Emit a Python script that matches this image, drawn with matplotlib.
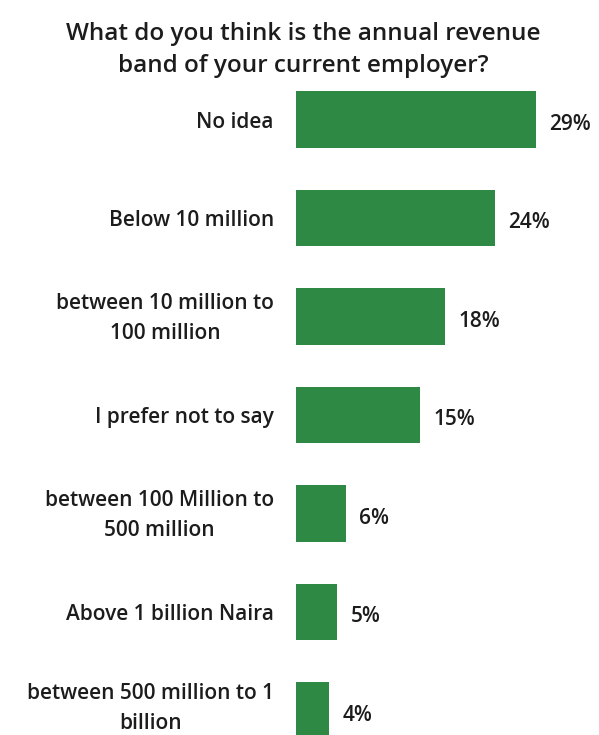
import matplotlib
matplotlib.use("Agg")
import matplotlib.pyplot as plt
from matplotlib.transforms import ScaledTranslation

# survey answers, top to bottom
categories = [
    "No idea",
    "Below 10 million",
    "between 10 million to\n100 million",
    "I prefer not to say",
    "between 100 Million to\n500 million",
    "Above 1 billion Naira",
    "between 500 million to 1\nbillion",
]
shares = [29, 24, 18, 15, 6, 5, 4]

TITLE = "What do you think is the annual revenue\nband of your current employer?"
BAR_COL = "#2e8944"
TXT_COL = "#1c1c1c"
FONT = ["Open Sans", "DejaVu Sans"]

plt.rcParams["font.family"] = FONT

fig = plt.figure(figsize=(5.99, 7.35), dpi=100)
fig.patch.set_facecolor("white")

# axes runs from the top of the first bar area down past the bottom edge
ax = fig.add_axes([296 / 599, 0.0, 303 / 599, (735 - 70) / 735])
ypos = list(range(len(categories)))
ax.barh(ypos, shares, height=0.57, color=BAR_COL, edgecolor="none")

ax.set_xlim(0, 303 / 8.28)
ax.set_ylim(6.249, -0.503)

for y, v in zip(ypos, shares):
    ax.annotate(f"{v}%", xy=(v, y), xytext=(9.5, -3.5), textcoords="offset points",
                ha="left", va="center", fontsize=15, fontweight="semibold",
                color=TXT_COL)

ax.set_yticks(ypos)
ax.set_yticklabels(categories, fontsize=15, fontweight="semibold",
                   color=TXT_COL, multialignment="center", linespacing=1.55)
ax.tick_params(axis="y", length=0, pad=16)
ax.set_xticks([])
for sp in ax.spines.values():
    sp.set_visible(False)

# two-line labels sit a little low, nudge them up (the last one a bit more)
for i, lab in enumerate(ax.get_yticklabels()):
    if "\n" in lab.get_text():
        dy = 9 if i == len(categories) - 1 else 5
        lab.set_transform(lab.get_transform()
                          + ScaledTranslation(0, dy / 100, fig.dpi_scale_trans))

fig.text(0.507, 1 - 50 / 735, TITLE, ha="center", va="center", fontsize=17.5,
         fontweight="semibold", color=TXT_COL, linespacing=1.45)

fig.savefig("out.png", dpi=100)
